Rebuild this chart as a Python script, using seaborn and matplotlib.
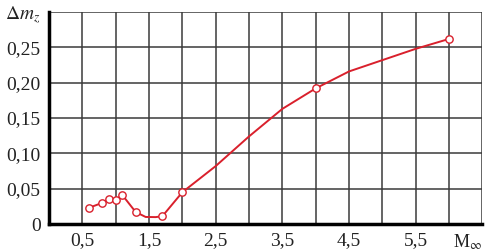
import numpy as np
import pandas as pd
import matplotlib
matplotlib.use("Agg")
import matplotlib.pyplot as plt
import seaborn as sns

# Measured points (markers)
mach = [0.6, 0.8, 0.9, 1.0, 1.1, 1.3, 1.7, 2.0, 4.0, 6.0]
dmz = [0.023, 0.030, 0.035, 0.034, 0.041, 0.017, 0.011, 0.045, 0.192, 0.262]

# Extra points
mach_curve = [1.45, 1.6, 2.5, 3.0, 3.5, 4.5, 5.0, 5.5]
dmz_curve = [0.010, 0.0098, 0.082, 0.124, 0.163, 0.216, 0.232, 0.248]

x_ticks = [0.5, 1.0, 1.5, 2.0, 2.5, 3.0, 3.5, 4.0, 4.5, 5.0, 5.5, 6.0, 6.5]
x_labels = ['0,5', '', '1,5', '', '2,5', '', '3,5', '', '4,5', '', '5,5', '', r'M$_\infty$']
y_ticks = [0, 0.05, 0.10, 0.15, 0.20, 0.25, 0.30]
y_labels = ['0', '0,05', '0,10', '0,15', '0,20', '0,25', r'$\Delta m_z$']

sns.set_style("white")
plt.rcParams['font.family'] = ['Liberation Serif', 'DejaVu Serif']
plt.rcParams['mathtext.fontset'] = 'stix'

pts = pd.DataFrame({'M': mach, 'dm': dmz})
curve = pd.concat([pts, pd.DataFrame({'M': mach_curve, 'dm': dmz_curve})]).sort_values('M')

fig = plt.figure(figsize=(4.93, 2.52), dpi=100)
ax = fig.add_axes([0.0994, 0.111, 0.879, 0.841])

red = '#d9202c'
sns.lineplot(x='M', y='dm', data=curve, sort=True, color=red, linewidth=1.4, ax=ax, zorder=3)
sns.scatterplot(x='M', y='dm', data=pts, s=28, facecolor='white', edgecolor=red,
                linewidth=1.0, ax=ax, zorder=4)

ax.set_xlim(0, 6.5)
ax.set_ylim(0, 0.3)
ax.set_xticks(x_ticks)
ax.set_xticklabels(x_labels, fontsize=14, color='#222222')
ax.set_yticks(y_ticks)
ax.set_yticklabels(y_labels, fontsize=14, color='#222222')
ax.set_xlabel('')
ax.set_ylabel('')
m_label = ax.get_xticklabels()[-1]
m_label.set_horizontalalignment('right')
m_label.set_fontsize(13)

ax.grid(True, color='#3a3a3a', linewidth=1.1)
ax.tick_params(axis='both', direction='out', length=5, width=1.1, color='#3a3a3a', pad=1)
ax.tick_params(axis='x', pad=1)

for side in ['top', 'right']:
    ax.spines[side].set_visible(False)
for side in ['left', 'bottom']:
    ax.spines[side].set_color('black')
    ax.spines[side].set_linewidth(2.5)
    ax.spines[side].set_zorder(5)

fig.savefig('out.png', dpi=100)
